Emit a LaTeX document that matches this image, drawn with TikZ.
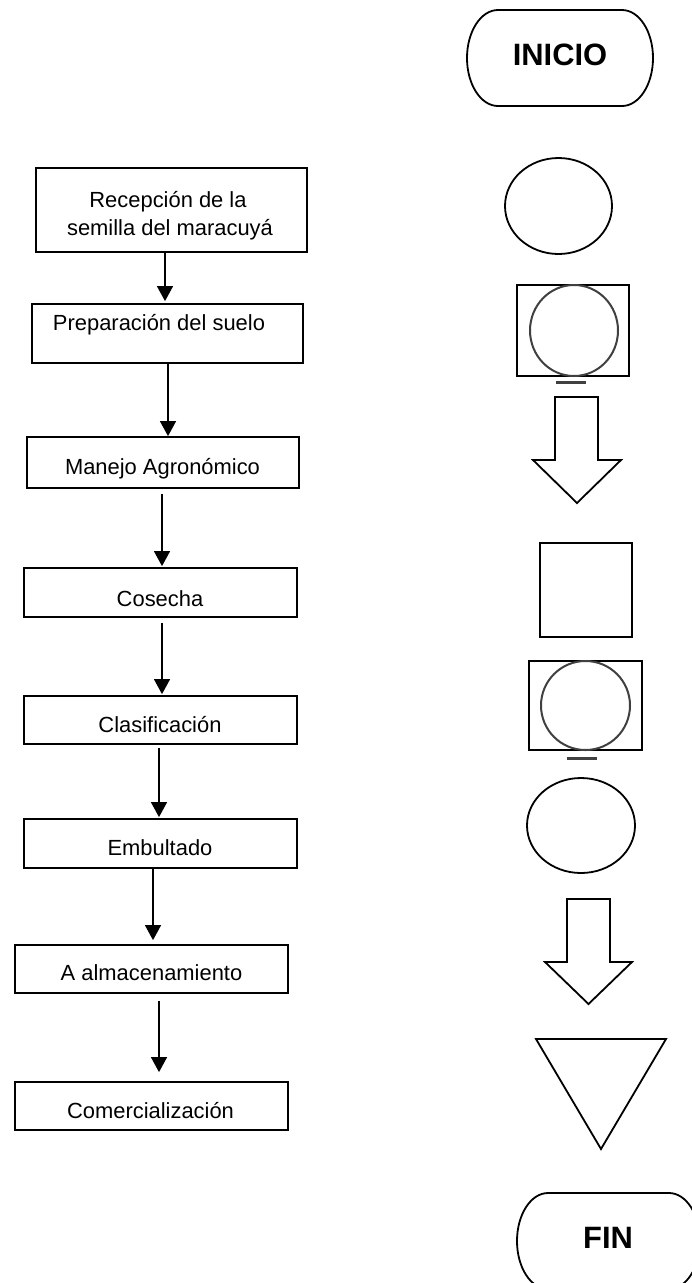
\documentclass[tikz,border=0pt]{standalone}
\usepackage{fontspec}
\setmainfont{Liberation Sans}
\usetikzlibrary{arrows.meta}
\begin{document}
\begin{tikzpicture}[x=1bp,y=-1bp,
  box/.style={draw, line width=1.8bp, inner sep=0pt},
  lbl/.style={font=\fontsize{22}{28}\selectfont, anchor=base, inner sep=0pt},
  ttl/.style={font=\fontsize{31}{36}\selectfont\bfseries, anchor=base, inner sep=0pt},
  conn/.style={line width=1.3bp, -{Triangle[width=16bp,length=15bp]}},
  shp/.style={draw, line width=1.8bp, line join=miter},
  circ/.style={draw=black!75, line width=2bp},
  blurline/.style={draw=black!75, line width=3bp},
]
\useasboundingbox (0,0) rectangle (692,1283);
\clip (0,0) rectangle (692,1283);

% left boxes
\node[box, minimum width=271bp, minimum height=84bp] (b1) at (171.5,210) {};
\node[box, minimum width=271bp, minimum height=59bp] (b2) at (167.5,333.5) {};
\node[box, minimum width=272bp, minimum height=51bp] (b3) at (163,462.5) {};
\node[box, minimum width=273bp, minimum height=49bp] (b4) at (160.5,592.5) {};
\node[box, minimum width=273bp, minimum height=48bp] (b5) at (160.5,720) {};
\node[box, minimum width=273bp, minimum height=49bp] (b6) at (160.5,843.5) {};
\node[box, minimum width=273bp, minimum height=48bp] (b7) at (151.5,969) {};
\node[box, minimum width=273bp, minimum height=48bp] (b8) at (151.5,1106) {};

% labels
\node[lbl] (t1a) at (168,207) {Recepción de la};
\node[lbl] (t1b) at (170,235) {semilla del maracuyá};
\node[lbl] (t2) at (159,330) {Preparación del suelo};
\node[lbl] (t3) at (162.5,474) {Manejo Agronómico};
\node[lbl] (t4) at (160,606) {Cosecha};
\node[lbl] (t5) at (160,732) {Clasificación};
\node[lbl] (t6) at (160,855) {Embultado};
\node[lbl] (t7) at (151.5,980) {A almacenamiento};
\node[lbl] (t8) at (150.5,1118) {Comercialización};

% connector x positions
\coordinate (x12) at (165,0);
\coordinate (x23) at (168,0);
\coordinate (x34) at (162,0);
\coordinate (x45) at (162,0);
\coordinate (x56) at (159,0);
\coordinate (x67) at (153,0);
\coordinate (x78) at (159,0);

\draw[conn, shorten >=2bp] (b1.south -| x12) -- (b2.north -| x12);
\draw[conn] (b2.south -| x23) -- (b3.north -| x23);
\draw[conn, shorten <=5bp, shorten >=1bp] (b3.south -| x34) -- (b4.north -| x34);
\draw[conn, shorten <=5bp, shorten >=1bp] (b4.south -| x45) -- (b5.north -| x45);
\draw[conn, shorten <=3bp, shorten >=1bp] (b5.south -| x56) -- (b6.north -| x56);
\draw[conn, shorten >=4bp] (b6.south -| x67) -- (b7.north -| x67);
\draw[conn, shorten <=7bp, shorten >=9bp] (b7.south -| x78) -- (b8.north -| x78);

% right column symbols
\draw[shp] (498,10) -- (622,10) arc[start angle=-90, end angle=90, x radius=31, y radius=48]
  -- (498,106) arc[start angle=90, end angle=270, x radius=31, y radius=48] -- cycle;
\node[ttl] (inicio) at (560,65) {INICIO};

\draw[shp] (558.5,206) ellipse [x radius=53.5, y radius=48];

\draw[shp] (517,285) rectangle (629,376);
\draw[circ] (574,330.5) ellipse [x radius=44, y radius=45.5];
\draw[blurline] (556,382) -- (586,382);

\draw[shp] (555,397) -- (598,397) -- (598,460) -- (621,460) -- (577,503) -- (533,460) -- (555,460) -- cycle;

\draw[shp] (540,543) rectangle (632,637);

\draw[shp] (529,661) rectangle (642,750);
\draw[circ] (585.5,705.5) ellipse [x radius=44.5, y radius=44.5];
\draw[blurline] (567,758) -- (597,758);

\draw[shp] (581,825.5) ellipse [x radius=54, y radius=47.5];

\draw[shp] (567,899) -- (610,899) -- (610,962) -- (632,962) -- (588.5,1004) -- (545,962) -- (567,962) -- cycle;

\draw[shp] (536,1039) -- (666,1039) -- (601,1149) -- cycle;

\draw[shp] (548,1193) -- (669,1193) arc[start angle=-90, end angle=90, x radius=31, y radius=48]
  -- (548,1289) arc[start angle=90, end angle=270, x radius=31, y radius=48] -- cycle;
\node[ttl] (fin) at (608,1248) {FIN};
\end{tikzpicture}
\end{document}
